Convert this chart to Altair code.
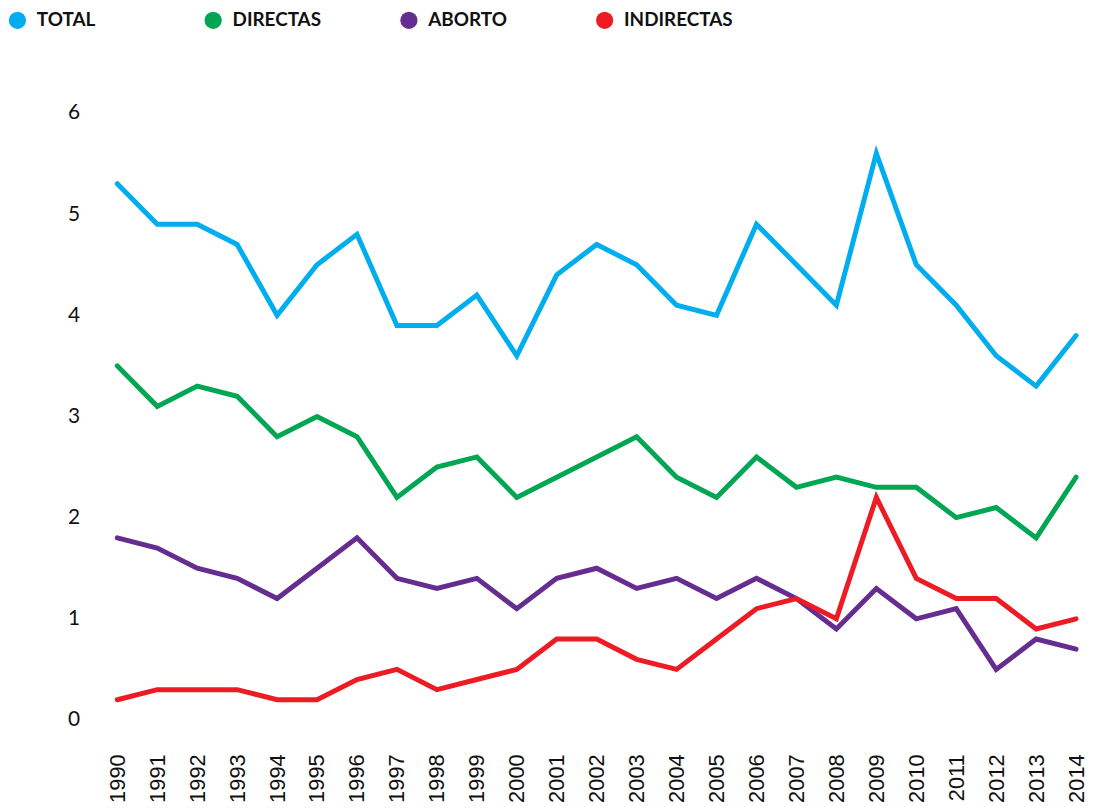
import altair as alt
import pandas as pd

years = list(range(1990, 2015))
total = [5.3, 4.9, 4.9, 4.7, 4.0, 4.5, 4.8, 3.9, 3.9, 4.2, 3.6, 4.4, 4.7, 4.5, 4.1, 4.0, 4.9, 4.5, 4.1, 5.6, 4.5, 4.1, 3.6, 3.3, 3.8]
directas = [3.5, 3.1, 3.3, 3.2, 2.8, 3.0, 2.8, 2.2, 2.5, 2.6, 2.2, 2.4, 2.6, 2.8, 2.4, 2.2, 2.6, 2.3, 2.4, 2.3, 2.3, 2.0, 2.1, 1.8, 2.4]
aborto = [1.8, 1.7, 1.5, 1.4, 1.2, 1.5, 1.8, 1.4, 1.3, 1.4, 1.1, 1.4, 1.5, 1.3, 1.4, 1.2, 1.4, 1.2, 0.9, 1.3, 1.0, 1.1, 0.5, 0.8, 0.7]
indirectas = [0.2, 0.3, 0.3, 0.3, 0.2, 0.2, 0.4, 0.5, 0.3, 0.4, 0.5, 0.8, 0.8, 0.6, 0.5, 0.8, 1.1, 1.2, 1.0, 2.2, 1.4, 1.2, 1.2, 0.9, 1.0]

series = ["TOTAL", "DIRECTAS", "ABORTO", "INDIRECTAS"]
colors = ["#00AEEF", "#00A651", "#662D91", "#ED1C24"]
values = [total, directas, aborto, indirectas]

rows = []
for i, (name, vals) in enumerate(zip(series, values)):
    for y, v in zip(years, vals):
        rows.append({"year": str(y), "value": v, "serie": name, "order": i})
df = pd.DataFrame(rows)

x_enc = alt.X("year:O", scale=alt.Scale(type="point", padding=0),
              axis=alt.Axis(title=None, labelAngle=-90, labelAlign="right", labelBaseline="middle",
                            labelPadding=34, ticks=False, domain=False, grid=False,
                            labelFont="Liberation Sans", labelFontSize=22, labelColor="#111111"))
y_enc = alt.Y("value:Q", scale=alt.Scale(domain=[0, 6], nice=False),
              axis=alt.Axis(title=None, values=[0, 1, 2, 3, 4, 5, 6], ticks=False, domain=False,
                            grid=False, labelPadding=38, labelFont="Lato", labelFontSize=21,
                            labelColor="#111111"))
color_enc = alt.Color("serie:N", scale=alt.Scale(domain=series, range=colors),
                      legend=alt.Legend(title=None, orient="none", legendX=-110, legendY=-103,
                                        direction="horizontal", columns=4, gridAlign="all",
                                        columnPadding=58, symbolType="circle", symbolSize=300,
                                        symbolStrokeWidth=0, symbolOpacity=1,
                                        labelFont="Lato", labelFontSize=19, labelFontWeight="bold",
                                        labelColor="#111111", labelOffset=10, labelLimit=300))

lines = alt.Chart(df).mark_line(strokeWidth=5, strokeCap="round").encode(
    x=x_enc, y=y_enc, color=color_enc,
    order=alt.Order("order:Q"),
    detail="serie:N",
)
pts = alt.Chart(df).mark_point(filled=True, opacity=0, size=1).encode(
    x=x_enc, y=y_enc, color=color_enc,
)

chart = alt.layer(lines, pts).properties(
    width=965, height=611,
    autosize=alt.AutoSizeParams(type="none"),
    padding={"left": 110, "top": 103, "right": 12, "bottom": 92},
).configure_view(stroke=None)

chart.save("out.html", embed_options={"renderer": "svg", "actions": False})
